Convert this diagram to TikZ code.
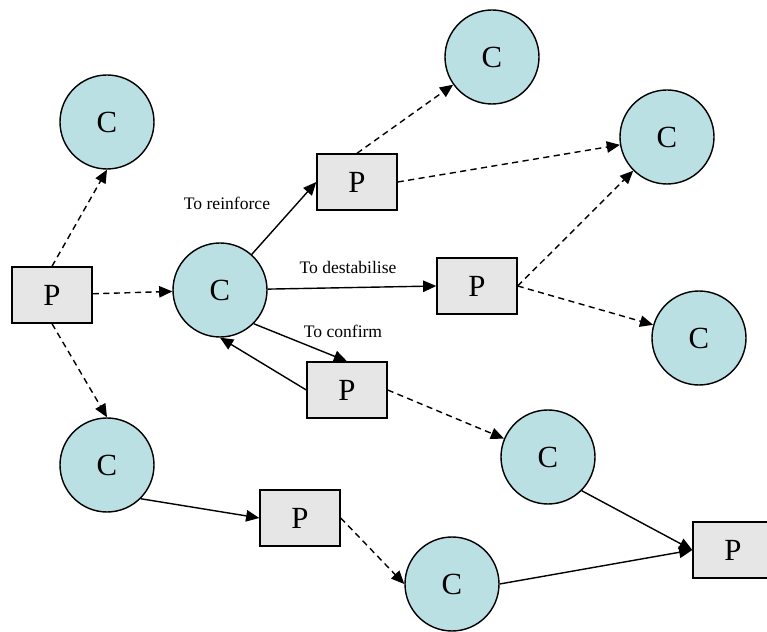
\documentclass[tikz,border=0pt]{standalone}
\usepackage{fontspec}
\setmainfont{Liberation Serif}
\usetikzlibrary{arrows.meta}

\definecolor{claimfill}{RGB}{187,224,227}
\definecolor{partfill}{RGB}{230,230,230}

\tikzset{
    claim/.style = {circle, draw, line width=0.8pt, fill=claimfill, minimum size=1.88cm,
        inner sep=0pt, font=\fontsize{17.5}{19}\selectfont},
    part/.style = {rectangle, draw, line width=0.8pt, fill=partfill, minimum width=1.6cm,
        minimum height=1.12cm, inner sep=0pt, font=\fontsize{17.5}{19}\selectfont},
    link/.style = {line width=0.8pt, -{Triangle[length=7.5pt,width=6.5pt]}},
    maybe/.style = {link, dash pattern=on 3.5pt off 2.5pt},
    tag/.style = {font=\fontsize{10}{12}\selectfont, inner sep=1pt}
}

\begin{document}
\begin{tikzpicture}[x=0.2mm, y=-0.2mm]
    \useasboundingbox (0,0) rectangle (767,632);

    % left column
    \node [part] (p1) at (52,295) {P};
    \node [claim] (c1) at (107,122) {C};
    \node [claim] (c3) at (107,465) {C};

    % middle
    \node [claim] (c2) at (220,290) {C};
    \node [part] (p2) at (357,182) {P};
    \node [part] (p3) at (477,286) {P};
    \node [part] (p4) at (347,390) {P};
    \node [part] (p5) at (300,518) {P};

    % right
    \node [claim] (c4) at (492,57) {C};
    \node [claim] (c5) at (667,137) {C};
    \node [claim] (c6) at (699,338) {C};
    \node [claim] (c7) at (548,457) {C};
    \node [claim] (c8) at (452,584) {C};
    \node [part] (p6) at (733,550) {P};

    % labels
    \node [tag] (reinforce) at (227,203) {To reinforce};
    \node [tag] (destab) at (348,267) {To destabilise};
    \node [tag] (confirm) at (343,331) {To confirm};

    \draw [maybe] (p1.north) -- (c1.south);
    \draw [maybe] (p1) -- (c2);
    \draw [maybe] (p1.south) -- (c3.north);

    \draw [link] (c2) -- (p2.west);
    \draw [link] (c2) -- (p3.west);
    \draw [link] (c2.-45) -- (p4.north);
    \draw [link] (p4.west) -- (c2.south);

    \draw [maybe] (p2.north) -- (c4);
    \draw [maybe] (p2.east) -- (c5);
    \draw [maybe] (p3.east) -- (c5);
    \draw [maybe] (p3.east) -- (c6);
    \draw [maybe] (p4.east) -- (c7);

    \draw [link] (c3.-45) -- (p5.west);
    \draw [maybe] (p5.east) -- (c8.west);
    \draw [link] (c8.east) -- (p6.west);
    \draw [link] (c7.-45) -- (p6.west);

\end{tikzpicture}
\end{document}
